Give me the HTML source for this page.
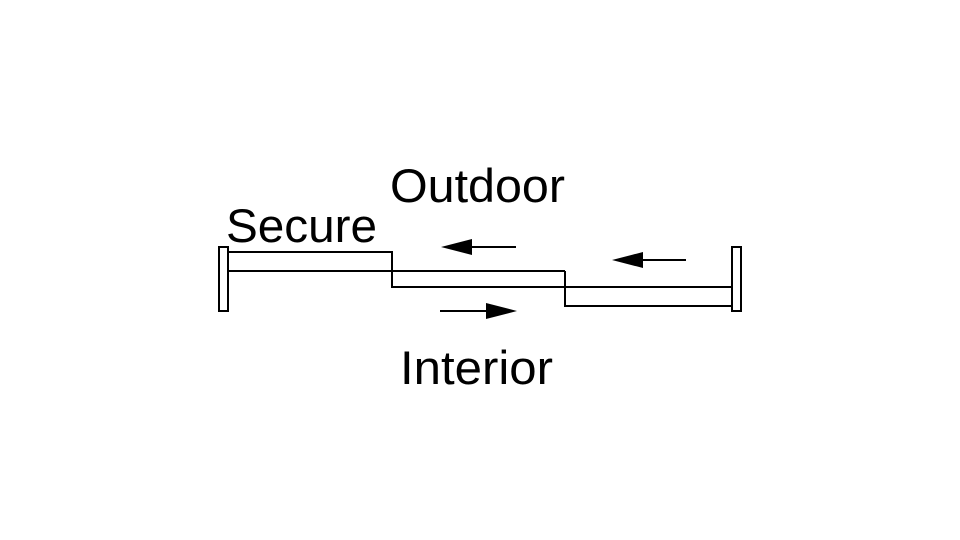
<!DOCTYPE html>
<html><head><meta charset="utf-8"><style>html,body{margin:0;padding:0;background:#fff}svg{display:block}</style></head>
<body>
<svg width="960" height="540" viewBox="0 0 960 540" xmlns="http://www.w3.org/2000/svg">
<rect width="960" height="540" fill="#fff"/>
<g fill="none" stroke="#000" stroke-width="2">
<rect x="219" y="247" width="9" height="64"/>
<rect x="732" y="247" width="9" height="64"/>
<polyline points="228,252 392,252 392,287 732,287"/>
<line x1="228" y1="271" x2="565" y2="271"/>
<polyline points="565,271 565,306 732,306"/>
<line x1="470" y1="247" x2="516" y2="247"/>
<line x1="640" y1="260" x2="686" y2="260"/>
<line x1="440" y1="311" x2="488" y2="311"/>
</g>
<g fill="#000">
<polygon points="441,247 472,239 472,255"/>
<polygon points="612,260 643,252 643,268"/>
<polygon points="517,311 486,303 486,319"/>
</g>
<g font-family="Liberation Sans, Arial, sans-serif" font-size="47" fill="#000">
<text x="390" y="202" textLength="175" lengthAdjust="spacingAndGlyphs">Outdoor</text>
<text x="226" y="242" textLength="151" lengthAdjust="spacingAndGlyphs">Secure</text>
<text x="400" y="384" textLength="153" lengthAdjust="spacingAndGlyphs">Interior</text>
</g>
</svg>
</body></html>
